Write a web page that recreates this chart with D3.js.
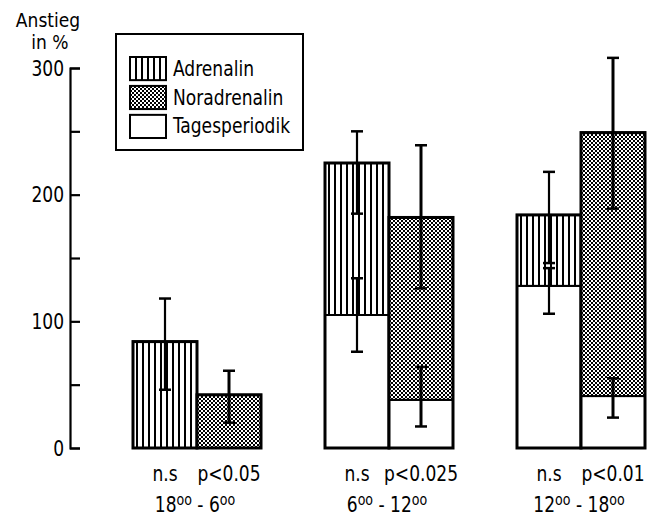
<!DOCTYPE html>
<html>
<head>
<meta charset="utf-8">
<script src="https://cdnjs.cloudflare.com/ajax/libs/d3/7.8.5/d3.min.js"></script>
<style>
  body { margin: 0; background: #fff; }
  svg { display: block; }
  text { font-family: "DejaVu Sans Condensed", "DejaVu Sans", sans-serif; fill: #000; }
</style>
</head>
<body>
<div id="chart"></div>
<script>
// values (Anstieg in %)
var periods = ["18-6", "6-12", "12-18"];
var periodLabels = [["18", "6"], ["6", "12"], ["12", "18"]];
var sigLabels = [["n.s", "p<0.05"], ["n.s", "p<0.025"], ["n.s", "p<0.01"]];
var series = ["Adrenalin", "Noradrenalin"];

// Tagesperiodik part (white base) and total height per bar
var adrBase = [0, 105, 128];
var adrTotal = [84, 225, 184];
var norBase = [0, 38, 41];
var norTotal = [42, 182, 249];

// error bars [low, high]
var adrTotalErr = [[46, 118], [185, 250], [146, 218]];
var adrBaseErr = [null, [76, 134], [106, 142]];
var norTotalErr = [[20, 61], [126, 239], [189, 308]];
var norBaseErr = [null, [17, 64], [24, 55]];

var yTicks = [0, 50, 100, 150, 200, 250, 300];
var legendItems = ["Adrenalin", "Noradrenalin", "Tagesperiodik"];

var width = 651, height = 516;
var fs = 19;
var stretch = 1.15; // the print font is taller than DejaVu Condensed

var svg = d3.select("#chart").append("svg")
  .attr("width", width)
  .attr("height", height);

// text drawn at (x,y) with a slight vertical stretch
function txt(parent, x, y, str, anchor) {
  return parent.append("text")
    .attr("transform", "translate(" + x + "," + y + ") scale(1," + stretch + ")")
    .attr("text-anchor", anchor || "start")
    .attr("font-size", fs)
    .text(str);
}

var defs = svg.append("defs");

// vertical hatching for Adrenalin
var pv = defs.append("pattern")
  .attr("id", "vlines")
  .attr("patternUnits", "userSpaceOnUse")
  .attr("width", 6).attr("height", 10);
pv.append("rect").attr("width", 6).attr("height", 10).attr("fill", "#fff");
pv.append("rect").attr("x", 3).attr("width", 2).attr("height", 10).attr("fill", "#000");

// fine checker for Noradrenalin
var pc = defs.append("pattern")
  .attr("id", "checker")
  .attr("patternUnits", "userSpaceOnUse")
  .attr("width", 4).attr("height", 4);
pc.append("rect").attr("width", 4).attr("height", 4).attr("fill", "#fff");
pc.append("rect").attr("x", 0).attr("y", 0).attr("width", 2).attr("height", 2).attr("fill", "#000");
pc.append("rect").attr("x", 2).attr("y", 2).attr("width", 2).attr("height", 2).attr("fill", "#000");

var fills = { "Adrenalin": "url(#vlines)", "Noradrenalin": "url(#checker)", "Tagesperiodik": "#fff" };

var y = d3.scaleLinear().domain([0, 300]).range([448, 68]);

var x0 = d3.scaleBand().domain(periods).range([133, 645]).paddingInner(1 / 3).paddingOuter(0);
var x1 = d3.scaleBand().domain(series).range([0, x0.bandwidth()]);

// y axis
var axisG = svg.append("g").attr("transform", "translate(70,0)");
axisG.call(d3.axisLeft(y)
  .tickValues(yTicks)
  .tickSizeInner(-10)
  .tickSizeOuter(-10)
  .tickPadding(6)
  .tickFormat(function(d) { return d % 100 === 0 ? d : ""; }));
axisG.selectAll("path, line").attr("stroke", "#000").attr("stroke-width", 2.2);
axisG.selectAll("text")
  .attr("font-family", "DejaVu Sans Condensed, DejaVu Sans, sans-serif")
  .attr("font-size", fs).attr("fill", "#000")
  .attr("dy", "0.33em")
  .attr("transform", "scale(1," + stretch + ")");

// axis title (unstretched so the two lines stay apart)
svg.append("text").attr("x", 48).attr("y", 27).attr("text-anchor", "middle")
  .attr("font-size", fs).text("Anstieg");
svg.append("text").attr("x", 50).attr("y", 49).attr("text-anchor", "middle")
  .attr("font-size", fs).text("in %");

// bars
var barData = [];
periods.forEach(function(p, i) {
  barData.push({ period: p, s: "Adrenalin", base: adrBase[i], total: adrTotal[i], errT: adrTotalErr[i], errB: adrBaseErr[i] });
  barData.push({ period: p, s: "Noradrenalin", base: norBase[i], total: norTotal[i], errT: norTotalErr[i], errB: norBaseErr[i] });
});

var bars = svg.append("g").selectAll("g")
  .data(barData)
  .enter()
  .append("g")
  .attr("transform", function(d) { return "translate(" + (x0(d.period) + x1(d.s)) + ",0)"; });

// white Tagesperiodik base
bars.filter(function(d) { return d.base > 0; })
  .append("rect")
  .attr("x", 0).attr("width", x1.bandwidth())
  .attr("y", function(d) { return y(d.base); })
  .attr("height", function(d) { return y(0) - y(d.base); })
  .attr("fill", "#fff")
  .attr("stroke", "#000").attr("stroke-width", 2);

// hormone part
bars.append("rect")
  .attr("x", 0).attr("width", x1.bandwidth())
  .attr("y", function(d) { return y(d.total); })
  .attr("height", function(d) { return y(d.base) - y(d.total); })
  .attr("fill", function(d) { return fills[d.s]; })
  .attr("stroke", "#000").attr("stroke-width", 2);

// thick outline of whole bar
bars.append("rect")
  .attr("x", 0).attr("width", x1.bandwidth())
  .attr("y", function(d) { return y(d.total); })
  .attr("height", function(d) { return y(0) - y(d.total); })
  .attr("fill", "none")
  .attr("stroke", "#000").attr("stroke-width", 3);

// error bars
function errBar(sel, key) {
  var e = sel.filter(function(d) { return d[key]; }).append("g");
  var cx = x1.bandwidth() / 2;
  e.append("line")
    .attr("x1", cx).attr("x2", cx)
    .attr("y1", function(d) { return y(d[key][0]); })
    .attr("y2", function(d) { return y(d[key][1]); })
    .attr("stroke", "#000")
    .attr("stroke-width", function(d) { return d.s === "Noradrenalin" ? 3 : 2.2; });
  [0, 1].forEach(function(k) {
    e.append("line")
      .attr("x1", cx - 6).attr("x2", cx + 6)
      .attr("y1", function(d) { return y(d[key][k]); })
      .attr("y2", function(d) { return y(d[key][k]); })
      .attr("stroke", "#000").attr("stroke-width", 2.5);
  });
}
errBar(bars, "errT");
errBar(bars, "errB");

// significance labels
var labs = svg.append("g");
periods.forEach(function(p, i) {
  series.forEach(function(s, j) {
    txt(labs, x0(p) + x1(s) + x1.bandwidth() / 2, 481, sigLabels[i][j], "middle");
  });
  var t = txt(labs, x0(p) + x0.bandwidth() / 2 - 2, 512, "", "middle");
  t.append("tspan").text(periodLabels[i][0]);
  t.append("tspan").attr("font-size", 14).attr("dy", -6).text("oo");
  t.append("tspan").attr("dy", 6).text(" - " + periodLabels[i][1]);
  t.append("tspan").attr("font-size", 14).attr("dy", -6).text("oo");
});

// legend
var lg = svg.append("g");
lg.append("rect").attr("x", 116).attr("y", 34).attr("width", 187).attr("height", 116)
  .attr("fill", "#fff").attr("stroke", "#000").attr("stroke-width", 2);
var ly = d3.scaleBand().domain(legendItems).range([57, 138]).paddingInner(0.2);
legendItems.forEach(function(it) {
  lg.append("rect")
    .attr("x", 130).attr("y", ly(it)).attr("width", 36).attr("height", ly.bandwidth())
    .attr("fill", fills[it]).attr("stroke", "#000").attr("stroke-width", 2);
  txt(lg, 173, ly(it) + ly.bandwidth() / 2 + 7, it);
});
</script>
</body>
</html>
